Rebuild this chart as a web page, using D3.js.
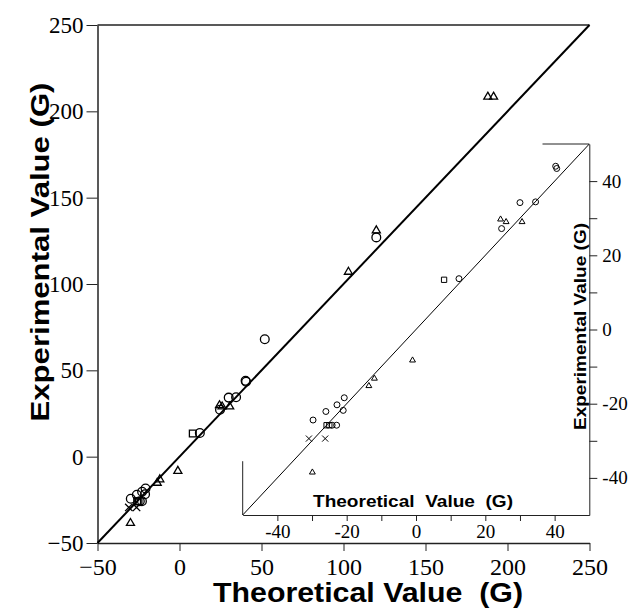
<!DOCTYPE html>
<html>
<head>
<meta charset="utf-8">
<script src="https://cdn.jsdelivr.net/npm/d3@7"></script>
<style>
  html, body { margin: 0; padding: 0; background: #fff; }
  svg { display: block; }
  .tick text { font-family: "Liberation Serif", "Times New Roman", serif; fill: #000; }
  .title { font-family: "Liberation Sans", Arial, sans-serif; font-weight: bold; fill: #000; white-space: pre; }
  .axis path, .axis line { stroke: #222; }
</style>
</head>
<body>
<div id="chart"></div>
<script>
var circleTheo = [52, 120, 40.3, 40.6, 30, 34.5, 24.7, 12.4, -20.7, -22.8, -21, -26, -29.7, -24.2, -22.9];
var circleExp  = [68, 127, 44, 43.4, 34.2, 34.4, 27.2, 13.7, -18.4, -20.3, -21.8, -22.1, -24.4, -25.8, -25.8];
var triTheo = [188, 191.5, 103, 120, 24.4, 26, 30.6, -1, -12, -13.6, -29.9];
var triExp  = [208.4, 208.4, 107, 131, 29.7, 29, 29, -8.3, -13.2, -15.2, -38.5];
var squareTheo = [8.1, -25.8, -25];
var squareExp  = [13.4, -25.8, -25.8];
var crossTheo = [-30.9, -26.2];
var crossExp  = [-29.4, -29.4];

var mainTicks = [-50, 0, 50, 100, 150, 200, 250];
var insetTicks = [-40, -30, -20, -10, 0, 10, 20, 30, 40];

var points = [];
function addSeries(kind, xs, ys) {
    for (var i = 0; i < xs.length; i++) points.push({ kind: kind, x: xs[i], y: ys[i] });
}
addSeries("circle", circleTheo, circleExp);
addSeries("triangle", triTheo, triExp);
addSeries("square", squareTheo, squareExp);
addSeries("cross", crossTheo, crossExp);

var width = 630, height = 608;
var svg = d3.select("#chart").append("svg")
    .attr("width", width)
    .attr("height", height);

// main plot scales
var x = d3.scaleLinear().domain([-50, 250]).range([97.5, 589.5]);
var y = d3.scaleLinear().domain([-50, 250]).range([543, 25]);

// inset scales
var ix = d3.scaleLinear().domain([-50, 50]).range([242.7, 589.3]);
var iy = d3.scaleLinear().domain([-50, 50]).range([515, 144]);

function symbolFor(kind, big) {
    var s = d3.symbol();
    if (kind === "circle") s.type(d3.symbolCircle).size(big ? 60 : 28);
    if (kind === "triangle") s.type(d3.symbolTriangle).size(big ? 28 : 15);
    if (kind === "square") s.type(d3.symbolSquare).size(big ? 46 : 28);
    if (kind === "cross") s.type(d3.symbolTimes).size(big ? 38 : 26);
    return s();
}

// ---- main axes ----
var xAxis = d3.axisBottom(x).tickValues(mainTicks).tickSize(8).tickSizeOuter(0).tickPadding(7);
var yAxis = d3.axisLeft(y).tickValues(mainTicks).tickSize(11).tickSizeOuter(0).tickPadding(3);

var gx = svg.append("g").attr("class", "axis")
    .attr("transform", "translate(0," + y(-50) + ")")
    .call(xAxis);
gx.selectAll(".tick text").style("font-size", "24px");
gx.select(".domain").attr("stroke-width", 1.5);

var gy = svg.append("g").attr("class", "axis")
    .attr("transform", "translate(" + x(-50) + ",0)")
    .call(yAxis);
gy.selectAll(".tick text").style("font-size", "23px");
gy.select(".domain").attr("stroke-width", 1.5);

// top frame line
svg.append("line")
    .attr("x1", x(-50)).attr("x2", x(250))
    .attr("y1", y(250)).attr("y2", y(250))
    .attr("stroke", "#222").attr("stroke-width", 1.5);

// main diagonal y = x
svg.append("line")
    .attr("x1", x(-50)).attr("y1", y(-50))
    .attr("x2", x(250)).attr("y2", y(250))
    .attr("stroke", "#000").attr("stroke-width", 2);

// main markers
svg.append("g").selectAll("path")
    .data(points)
  .enter().append("path")
    .attr("transform", function (d) { return "translate(" + x(d.x) + "," + y(d.y) + ")"; })
    .attr("d", function (d) { return symbolFor(d.kind, true); })
    .attr("fill", "none")
    .attr("stroke", "#000")
    .attr("stroke-width", 1.3);

// main titles
svg.append("text").attr("class", "title")
    .attr("x", 368).attr("y", 602)
    .attr("text-anchor", "middle")
    .attr("textLength", 310).attr("lengthAdjust", "spacingAndGlyphs")
    .style("font-size", "27px")
    .text("Theoretical Value  (G)");

svg.append("text").attr("class", "title")
    .attr("transform", "translate(48.5,252) rotate(-90)")
    .attr("text-anchor", "middle")
    .attr("textLength", 339).attr("lengthAdjust", "spacingAndGlyphs")
    .style("font-size", "25px")
    .text("Experimental Value (G)");

// ---- inset ----
var inset = svg.append("g");

var ixAxis = d3.axisBottom(ix).tickValues(insetTicks).tickSize(6).tickSizeOuter(0).tickPadding(4)
    .tickFormat(function (d) { return d % 20 === 0 ? d : ""; });
var iyAxis = d3.axisRight(iy).tickValues(insetTicks).tickSize(8).tickSizeOuter(0).tickPadding(5)
    .tickFormat(function (d) { return d % 20 === 0 ? d : ""; });

var gix = inset.append("g").attr("class", "axis")
    .attr("transform", "translate(0," + iy(-50) + ")")
    .call(ixAxis);
gix.selectAll(".tick text").style("font-size", "19px");

var giy = inset.append("g").attr("class", "axis")
    .attr("transform", "translate(" + ix(50) + ",0)")
    .call(iyAxis);
giy.selectAll(".tick text").style("font-size", "19px");

// partial inset frame: short top stub and short left stub
inset.append("line")
    .attr("x1", ix(36.5)).attr("x2", ix(50))
    .attr("y1", iy(50)).attr("y2", iy(50))
    .attr("stroke", "#222").attr("stroke-width", 1);
inset.append("line")
    .attr("x1", ix(-50)).attr("x2", ix(-50))
    .attr("y1", iy(-50)).attr("y2", iy(-35.5))
    .attr("stroke", "#222").attr("stroke-width", 1);

// inset diagonal
inset.append("line")
    .attr("x1", ix(-50)).attr("y1", iy(-50))
    .attr("x2", ix(50)).attr("y2", iy(50))
    .attr("stroke", "#000").attr("stroke-width", 1);

inset.append("g").selectAll("path")
    .data(points.filter(function (d) { return d.x >= -50 && d.x <= 50 && d.y >= -50 && d.y <= 50; }))
  .enter().append("path")
    .attr("transform", function (d) { return "translate(" + ix(d.x) + "," + iy(d.y) + ")"; })
    .attr("d", function (d) { return symbolFor(d.kind, false); })
    .attr("fill", "none")
    .attr("stroke", "#000")
    .attr("stroke-width", 1);

inset.append("text").attr("class", "title")
    .attr("x", 413).attr("y", 507)
    .attr("text-anchor", "middle")
    .attr("textLength", 200).attr("lengthAdjust", "spacingAndGlyphs")
    .style("font-size", "17px")
    .text("Theoretical  Value  (G)");

inset.append("text").attr("class", "title")
    .attr("transform", "translate(586,326.5) rotate(-90)")
    .attr("text-anchor", "middle")
    .attr("textLength", 207).attr("lengthAdjust", "spacingAndGlyphs")
    .style("font-size", "17px")
    .text("Experimental Value (G)");
</script>
</body>
</html>
